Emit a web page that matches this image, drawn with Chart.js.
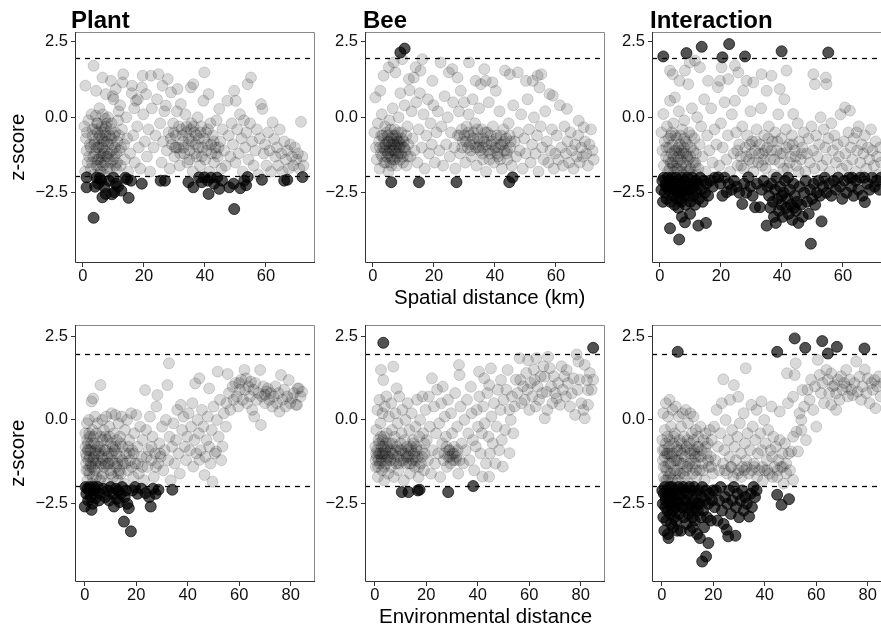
<!DOCTYPE html>
<html><head><meta charset="utf-8">
<script src="https://cdn.jsdelivr.net/npm/chart.js@4/dist/chart.umd.min.js"></script>
<style>
html,body{margin:0;padding:0;background:#fff;overflow:hidden;width:881px;height:627px;}
#wrap{position:relative;width:881px;height:627px;overflow:hidden;background:#fff;}
canvas{position:absolute;}
.t{position:absolute;font-family:"Liberation Sans",Arial,sans-serif;color:#000;white-space:nowrap;line-height:1;}
.title{font-size:24px;font-weight:bold;top:8px;}
.axt{font-size:20.5px;}
</style></head><body><div id="wrap">
<canvas id="c0"></canvas><canvas id="c1"></canvas><canvas id="c2"></canvas>
<canvas id="c3"></canvas><canvas id="c4"></canvas><canvas id="c5"></canvas>
<div class="t title" style="left:71px">Plant</div>
<div class="t title" style="left:363px">Bee</div>
<div class="t title" style="left:650px">Interaction</div>
<div class="t axt" id="xt1" style="top:286.5px">Spatial distance (km)</div>
<div class="t axt" id="xt2" style="top:605.5px">Environmental distance</div>
<div class="t axt yt" id="yt1">z-score</div>
<div class="t axt yt" id="yt2">z-score</div>
</div>
<script>
// ---- data: [distance, z-score] ----
const plantSpatial = [
[0.5,-0.3],[0.8,1.05],[1.0,-0.7],[1.2,-1.1],[1.5,-1.5],[0.7,-1.8],[1.8,-0.1],[2.0,-1.3],[2.3,-0.9],[2.6,-1.7],[1.3,-0.5],[2.8,0.1],
[3.5,1.71],[4.3,0.88],[3.2,-0.4],[3.8,-0.8],[4.0,-1.2],[4.4,-1.6],[4.6,-0.2],[5.0,-1.0],[5.2,-1.4],[5.5,-0.6],[5.8,-1.8],[6.0,-0.9],[6.2,-1.3],[6.4,1.32],[6.5,0.1],[6.8,-0.5],[7.0,-1.1],[7.2,-1.5],[7.5,0.77],[7.6,-0.3],[7.8,-0.8],[8.0,-1.7],[3.6,-1.9],[4.8,-0.5],[5.4,0.3],[6.6,-1.6],[7.3,-0.05],[8.2,0.0],[3.0,-1.5],[4.2,0.05],
[8.5,-1.2],[8.8,-0.6],[9.2,1.21],[9.0,-1.5],[9.4,-0.2],[9.7,-0.9],[10.0,0.6],[10.3,-1.3],[10.8,0.94],[10.6,-0.5],[11.0,-1.7],[11.3,-0.8],[11.7,0.2],[12.0,-1.1],[12.4,-1.6],[12.8,-0.4],[13.2,1.43],[13.0,1.16],[13.5,-0.9],[13.8,-1.4],[14.2,0.0],[14.5,-0.7],[14.8,-1.8],[11.5,-0.1],[9.8,0.7],[12.2,0.4],[10.5,-1.0],
[15.5,-1.2],[16.1,1.05],[16.0,0.8],[16.5,-0.6],[17.0,-1.5],[17.4,0.55],[17.8,-0.3],[18.3,-1.0],[18.8,-1.7],[19.3,0.99],[19.6,1.38],[19.8,0.1],[20.3,-0.8],[20.7,0.77],[21.0,-1.3],[21.5,-0.4],[22.0,-1.8],[22.3,1.38],[22.6,0.3],[23.2,-1.0],[23.8,-0.6],[24.3,0.6],[24.8,1.43],[16.8,0.3],[18.0,0.6],
[25.3,-0.2],[25.8,-1.5],[26.1,1.05],[26.3,-0.8],[26.7,0.2],[27.2,0.39],[27.5,-1.1],[27.8,1.27],[28.1,-0.5],[28.5,-1.7],[28.9,0.83],[29.2,-0.9],[29.6,-0.2],[30.0,-1.3],[30.4,-0.6],[30.8,0.2],[31.0,0.94],[31.3,-1.0],[31.7,-1.6],[32.1,0.44],[32.4,-0.4],[32.8,-0.8],[33.2,-1.2],[33.6,0.1],[34.0,-0.3],[34.3,-1.5],[34.7,-0.7],[35.0,-1.1],[35.4,0.99],[35.6,-0.2],[36.0,-1.8],[36.2,1.1],[36.5,-0.5],[36.9,-0.9],[37.3,-1.3],[37.6,0.0],[38.0,-0.7],[38.4,-1.6],[38.8,-0.3],[39.2,-1.0],[39.5,0.55],[39.8,1.49],[40.1,-1.4],[40.4,-0.5],[40.8,-0.9],[41.2,0.77],[41.5,-1.8],[41.8,-0.2],[42.2,-1.2],[42.6,-0.6],[43.0,-1.5],[43.4,-1.0],[43.8,-0.1],[44.2,-1.3],[44.7,0.28],[45.0,-0.8],[45.4,-1.7],[45.8,-0.4],
[46.3,-1.1],[46.8,-1.6],[47.4,0.55],[47.8,-0.6],[48.3,-1.3],[48.8,-0.2],[49.2,-0.9],[49.6,0.88],[50.1,0.55],[50.0,-1.5],[50.6,-0.4],[51.1,-1.2],[51.5,0.1],[52.0,-0.7],[52.4,-1.8],[52.8,-0.1],[53.2,-1.0],[53.6,-0.5],[54.0,1.1],[54.3,-1.4],[54.8,-0.2],[55.1,1.32],[55.5,-0.8],[56.0,-1.6],[56.5,-1.1],[57.0,-0.4],[57.5,-1.9],[58.0,-0.7],[58.4,0.44],[58.9,0.28],[59.3,-1.2],[59.7,-0.9],
[60.2,-1.6],[60.7,-0.5],[61.2,-1.1],[61.7,-1.8],[62.2,-0.17],[62.7,-0.72],[63.1,-1.3],[63.6,-1.0],[64.0,-1.6],[64.5,-0.4],[65.0,-1.2],[65.5,-1.8],[66.0,-0.8],[66.5,-1.4],[67.0,-1.1],[67.5,-1.7],[68.0,-0.9],[68.5,-1.3],[69.0,-1.6],[69.5,-1.0],[70.0,-1.4],[70.5,-1.2],[71.0,-1.7],[71.5,-0.15],[72.0,-1.3],[72.3,-1.6],
[2.5,-1.0],[3.1,-0.6],[3.4,-1.3],[4.1,-0.4],[4.5,-1.0],[4.7,-1.4],[5.1,-0.7],[5.3,-1.9],[5.7,-1.2],[6.1,-0.3],[6.3,-0.7],[6.7,-1.2],[6.9,-0.8],[7.1,-1.9],[7.4,-0.6],[7.7,-1.3],[7.9,-0.2],[8.3,-0.9],[8.7,-1.7],[9.1,-0.4],[9.5,-1.1],[9.9,-1.4],[10.2,-0.6],[10.9,-1.2],[11.2,-1.5],[11.9,-0.6],[12.5,-1.0],[5.0,-1.6],[6.4,-1.0],[8.1,-1.3],[3.7,-0.9],[4.9,-0.2],[5.9,-1.5],[7.0,-0.4],[9.3,-0.7],[10.6,-1.6],
[28.8,-0.7],[29.8,-0.5],[30.6,-1.0],[31.5,-0.3],[32.6,-0.6],[33.0,-1.0],[33.9,-0.5],[34.5,-0.9],[35.3,-0.4],[35.8,-0.8],[36.7,-1.2],[37.1,-0.6],[37.9,-1.0],[38.6,-0.5],[39.0,-1.3],[39.7,-0.7],[40.6,-1.1],[41.0,-0.4],[42.0,-0.9],[42.9,-0.8],[43.6,-1.2],[44.5,-1.0],[30.2,-1.0],[31.9,-1.2],[34.9,-1.4],[36.3,-0.3],
[1.2,-1.99],[1.2,-2.32],[3.5,-3.33],[4.5,-2.0],[5.0,-2.2],[5.5,-2.02],[6.4,-2.65],[7.5,-2.54],[8.6,-2.1],[10.3,-2.48],[10.0,-2.0],[10.8,-2.2],[13.9,-2.0],[12.6,-2.43],[15.0,-2.67],[15.8,-2.1],[19.3,-2.2],[25.5,-2.1],[26.9,-2.1],[34.6,-2.15],[36.2,-2.32],[38.1,-1.99],[39.0,-2.15],[39.8,-1.99],[41.2,-2.54],[40.9,-2.1],[43.0,-2.2],[44.7,-2.37],[45.6,-2.1],[48.0,-2.32],[49.4,-2.2],[49.6,-3.04],[51.6,-2.35],[52.9,-2.1],[54.0,-1.98],[58.7,-2.07],[66.0,-2.1],[67.0,-2.07],[72.0,-1.98],[4.0,-2.3],[6.0,-2.1],[7.0,-2.3],[9.5,-2.55],[11.5,-2.3],[14.5,-2.05],[42.0,-2.0],[44.0,-2.0],[53.5,-2.25]
];
const beeSpatial = [
[0.5,-0.5],[0.8,0.66],[1.0,-1.0],[1.3,-1.4],[1.6,-0.2],[2.0,-0.8],[2.2,-1.7],[2.4,0.88],[2.6,-1.2],[2.9,0.1],[3.2,-0.6],[3.5,1.38],[3.4,-1.0],[3.7,-1.5],[4.0,-0.3],[4.3,-0.9],[4.6,-1.3],[4.9,-0.6],[5.1,-1.8],[5.2,1.66],[5.4,-0.1],[5.7,-1.1],[6.0,-0.7],[6.3,-1.4],[6.5,0.3],[6.8,1.82],[6.9,-0.9],[7.2,-0.4],[7.4,1.49],[7.5,-1.2],[7.8,-1.6],[8.1,-0.8],[8.4,0.0],[8.7,-1.0],[9.0,0.8],[9.3,-0.5],[9.6,1.93],[9.8,-1.3],[10.1,-0.8],[10.4,0.4],[10.7,-1.1],[11.0,-1.6],[11.3,-0.3],[11.8,1.27],[11.6,-0.9],[12.0,0.9],[12.3,-1.3],[12.7,0.2],[13.0,-0.7],[13.4,1.32],[13.6,-1.1],[14.0,1.66],[14.2,0.5],[14.6,-1.5],[15.0,-0.4],[15.6,1.55],[15.4,0.8],[16.2,1.93],[16.0,-1.0],[16.6,0.1],[17.0,-1.7],[17.5,-0.6],[18.0,0.6],[18.4,-1.2],[18.9,-0.2],[19.5,1.21],[19.3,-0.9],[19.8,0.4],[20.3,-1.5],[20.8,-0.5],[21.3,0.2],[21.8,-1.1],[22.2,1.82],[22.5,-0.3],[23.0,-1.6],[23.5,0.7],[24.0,-0.9],[24.5,0.0],[24.9,1.49],[25.2,-1.3],[25.6,-0.5],[26.0,1.6],[26.3,0.5],[26.7,-1.0],[27.0,-1.7],[27.7,1.32],[27.8,-0.6],[28.2,0.2],[28.8,0.88],[28.6,-1.2],[29.1,-0.4],[29.5,-0.8],[29.9,0.5],[30.3,-1.5],[30.7,-0.3],[31.1,-1.0],[31.5,1.82],[31.4,0.1],[31.9,-0.6],[32.3,-1.3],[32.7,0.6],[33.1,-0.9],[33.7,1.21],[33.5,-0.2],[34.0,-1.6],[34.4,-0.7],[34.8,0.3],[35.4,1.1],[35.2,-1.1],[35.7,-0.4],[36.1,-1.4],[36.5,1.6],[36.6,-0.8],[37.0,1.21],[37.1,-1.8],[37.5,-0.5],[38.0,0.5],[38.4,-1.2],[38.8,-0.9],[39.2,1.16],[39.3,-0.3],[39.7,-1.5],[40.3,0.88],[40.1,-1.0],[40.6,-0.6],[41.0,-1.3],[41.5,0.2],[41.9,-0.9],[42.3,-1.7],[42.8,-0.4],[43.3,1.55],[43.2,-1.1],[43.7,-0.7],[44.1,-1.4],[44.9,1.43],[44.5,-0.2],[45.0,-1.0],[45.5,-1.6],[46.0,0.4],[46.5,-0.8],[47.0,-1.3],[47.5,1.49],[47.6,-0.5],[48.1,-1.1],[48.6,0.1],[49.1,-1.7],[49.6,-0.7],[50.2,1.21],[50.1,-1.2],[50.7,0.6],[51.2,-0.4],[51.7,-1.5],[52.4,1.21],[52.2,-0.9],[52.8,0.0],[53.3,-1.2],[53.8,-0.6],[54.0,1.38],[54.3,-1.8],[54.6,0.99],[55.2,1.43],[55.0,-0.3],[55.5,-1.0],[56.0,-1.4],[56.5,0.2],[57.0,-0.8],[57.5,-1.5],[57.9,0.77],[58.2,-1.1],[58.7,-0.4],[59.0,0.72],[59.3,-1.7],[59.8,-1.2],[60.3,-0.6],[60.8,-1.4],[61.3,0.4],[61.8,-1.0],[62.3,-1.6],[62.8,-0.3],[63.6,0.28],[63.3,-1.2],[63.8,-0.8],[64.3,-1.5],[64.8,-0.5],[65.3,-1.1],[65.8,-1.7],[66.3,-0.9],[66.8,-1.3],[67.5,-0.11],[67.3,-0.6],[67.8,-1.5],[68.3,-1.0],[68.8,-1.3],[69.1,-0.33],[69.5,-0.8],[70.0,-1.2],[70.5,-1.6],[71.0,-0.9],[71.5,-0.4],[72.0,-1.1],[72.4,-1.4],
[4.8,-0.8],[5.5,-1.0],[6.2,-0.9],[7.0,-1.1],[7.7,-0.7],[8.3,-1.2],[9.1,-0.9],[10.0,-1.0],[5.9,-1.3],[6.6,-0.6],[8.9,-1.4],[4.4,-1.1],
[30.0,-0.6],[31.8,-0.9],[33.0,-0.5],[34.6,-1.0],[36.2,-0.7],[37.8,-1.1],[39.0,-0.8],[40.8,-1.2],[42.5,-0.9],[44.0,-1.1],[45.2,-0.8],[38.2,-1.4],
[2.3,-1.0],[2.7,-0.6],[3.0,-1.3],[3.6,-0.7],[3.9,-1.1],[4.2,-1.5],[4.5,-0.5],[5.0,-1.2],[5.3,-0.8],[5.6,-1.5],[5.8,-0.4],[6.4,-1.1],[6.7,-0.8],[7.1,-1.4],[7.3,-0.6],[7.6,-1.0],[8.0,-1.3],[8.2,-0.5],[8.6,-0.8],[9.2,-1.2],[9.5,-0.7],[9.9,-1.5],[10.3,-1.0],[10.9,-0.6],[11.4,-1.3],[6.0,-1.6],[7.9,-0.9],[4.0,-0.9],
[28.4,-0.6],[29.3,-1.0],[30.5,-0.8],[31.3,-0.5],[32.1,-1.1],[32.9,-0.7],[33.8,-1.0],[34.2,-0.4],[35.0,-0.8],[35.9,-1.2],[36.8,-0.5],[37.3,-0.9],[38.6,-0.6],[39.5,-1.1],[40.4,-0.7],[41.3,-1.0],[42.0,-0.6],[43.0,-0.8],[43.9,-1.2],[44.8,-0.6],[41.7,-1.4],[36.0,-1.0],
[9.0,2.15],[10.4,2.28],[6.0,-2.15],[15.1,-2.15],[27.4,-2.15],[44.7,-2.15],[45.8,-1.99]
];
const interactionSpatial = [
[0.5,-0.5],[0.8,-1.1],[1.1,0.11],[1.3,-1.6],[1.6,-0.8],[2.0,-1.3],[2.3,-0.3],[2.6,-1.8],[3.0,-1.0],[3.3,1.55],[3.3,0.55],[3.6,-0.6],[4.0,-1.5],[4.2,1.43],[4.4,-0.2],[4.9,0.66],[4.8,-1.1],[5.2,-1.7],[5.5,-0.7],[5.9,-1.3],[6.4,1.21],[6.2,0.2],[6.6,-0.9],[7.0,-1.6],[7.3,-0.4],[7.7,-1.2],[8.2,1.55],[8.0,-0.1],[8.4,-0.8],[8.8,-1.8],[9.3,1.1],[9.2,-1.4],[9.8,1.82],[9.6,-0.5],[10.1,-1.0],[10.5,0.3],[10.9,-1.5],[11.5,1.88],[11.3,-0.7],[11.8,-1.2],[12.2,0.0],[12.6,-1.7],[13.1,1.66],[13.0,-0.9],[13.5,-0.3],[14.0,-1.3],[14.5,0.6],[15.0,-1.8],[15.8,1.21],[15.5,-0.6],[16.2,-1.1],[16.8,0.3],[17.3,-1.5],[17.9,-0.4],[18.5,-0.9],[19.0,1.0],[19.7,1.21],[19.5,-1.6],[20.2,1.66],[20.0,-0.2],[20.6,-1.0],[21.2,0.5],[21.8,-1.4],[22.4,1.27],[22.3,-0.6],[23.0,-1.8],[23.6,0.1],[24.6,1.71],[24.6,0.55],[24.2,-1.2],[25.0,-0.5],[25.7,1.49],[25.5,-1.6],[26.0,-0.9],[26.5,-1.3],[27.3,0.88],[27.0,-0.3],[27.5,-1.7],[28.4,1.21],[28.0,-1.0],[28.6,-0.6],[29.2,-1.4],[29.7,0.2],[30.6,1.16],[30.2,-0.8],[30.7,-1.8],[31.2,-1.1],[31.7,-0.4],[32.2,-1.5],[32.7,-0.9],[33.3,1.43],[33.2,0.3],[33.7,-1.2],[34.2,-0.6],[34.7,-1.7],[35.0,0.88],[35.2,-1.0],[35.7,-0.3],[36.6,1.38],[36.2,-1.4],[36.8,-0.8],[37.3,-1.9],[37.8,-0.5],[38.3,-1.1],[38.8,0.1],[39.3,0.94],[39.3,-1.5],[39.8,-0.7],[40.3,-1.2],[40.8,0.6],[41.5,1.55],[41.3,-0.4],[41.8,-1.7],[42.3,-0.9],[42.8,-1.3],[43.7,0.11],[43.3,-0.6],[44.2,-1.1],[44.7,-1.6],[45.2,-0.2],[45.7,-0.8],[46.2,-1.4],[46.7,-1.0],[47.2,-0.5],[47.7,-1.8],[48.2,-1.2],[48.7,-0.7],[49.2,-1.5],[49.7,-0.3],[50.3,1.43],[50.8,1.1],[50.2,-1.1],[50.7,-1.7],[51.2,-0.6],[51.7,-1.3],[52.2,-0.9],[52.7,0.0],[53.2,-1.6],[53.7,-0.4],[54.4,1.32],[54.6,1.1],[54.2,-1.0],[54.7,-1.4],[55.2,-0.7],[55.7,-1.8],[56.2,-0.2],[56.7,-1.1],[57.2,-0.6],[57.7,-1.5],[58.2,-0.9],[58.7,-1.3],[59.2,0.1],[59.7,-1.7],[60.7,0.33],[60.3,-0.8],[60.8,-1.2],[61.3,-1.6],[61.8,-0.5],[62.3,0.22],[62.6,-1.0],[63.1,-1.4],[63.6,-0.7],[64.5,-0.5],[64.2,-1.8],[64.7,-1.1],[65.2,-0.3],[65.7,-1.5],[66.2,-0.9],[66.7,-1.2],[67.2,-0.6],[67.7,-1.7],[68.2,-1.0],[68.7,-1.4],[69.2,-0.4],[69.7,-1.1],[70.2,-1.6],[70.7,-0.8],[71.2,-1.3],[71.7,-1.9],[72.2,-1.0],[72.5,-1.5],
[2.8,-1.4],[3.8,-1.2],[4.6,-1.8],[5.6,-1.5],[6.8,-1.4],[7.5,-1.9],[8.6,-1.6],[9.9,-1.7],[10.7,-1.9],[11.5,-1.5],[3.2,-1.7],[6.0,-1.0],[7.9,-1.0],[12.0,-1.9],
[2.1,-1.0],[2.9,-0.7],[3.5,-1.5],[4.1,-0.9],[4.5,-1.3],[5.0,-0.6],[5.4,-1.1],[5.8,-1.7],[6.3,-1.2],[6.7,-0.6],[7.1,-1.1],[7.6,-1.5],[8.0,-0.7],[8.5,-1.2],[9.0,-0.9],[9.4,-1.8],[10.0,-1.3],[10.4,-0.6],[11.0,-1.1],[11.7,-1.6],[4.3,-1.6],[6.9,-1.8],[8.9,-1.3],[3.9,-0.5],
[25.4,-1.1],[26.7,-1.6],[28.3,-1.3],[29.5,-0.9],[30.4,-1.5],[31.5,-0.8],[32.5,-1.2],[33.5,-1.6],[34.5,-1.1],[35.5,-0.7],[36.5,-1.1],[37.5,-1.4],[38.5,-0.8],[39.5,-1.2],[40.5,-1.7],[41.5,-1.0],[42.5,-1.5],[43.5,-0.9],[44.5,-1.3],[45.5,-1.8],[46.5,-1.2],[30.0,-1.2],[34.0,-1.4],
[1.1,2.02],[8.7,2.13],[13.7,2.34],[20.5,1.99],[22.7,2.43],[27.9,2.02],[39.9,2.19],[55.2,2.15],
[0.5,-2.4],[0.8,-2.1],[1.0,-2.8],[1.3,-2.0],[1.6,-2.5],[1.9,-2.2],[2.2,-2.7],[2.5,-2.0],[2.8,-2.4],[3.1,-2.1],[3.3,-3.68],[3.4,-2.8],[3.7,-2.3],[4.0,-2.0],[4.2,-2.6],[4.5,-2.2],[4.8,-2.9],[5.0,-2.4],[5.3,-2.0],[5.5,-2.7],[5.8,-2.3],[6.0,-3.0],[6.3,-4.05],[6.2,-2.1],[6.5,-2.5],[6.8,-2.2],[7.0,-2.8],[7.2,-3.3],[7.3,-2.0],[7.6,-2.4],[7.9,-2.6],[8.2,-3.48],[8.1,-2.1],[8.4,-2.9],[8.7,-2.3],[9.0,-2.0],[9.3,-2.6],[9.6,-2.2],[9.9,-3.2],[10.0,-2.8],[10.3,-2.4],[10.6,-2.0],[10.9,-2.6],[11.2,-2.3],[11.5,-2.9],[11.8,-2.1],[12.1,-2.5],[12.6,-3.59],[12.4,-2.2],[12.8,-2.7],[13.2,-2.0],[13.6,-2.4],[14.0,-2.8],[14.4,-2.1],[14.8,-2.5],[15.1,-3.5],[15.3,-2.2],[15.8,-2.6],[3.0,-2.3],[4.4,-2.4],[5.6,-2.5],[6.6,-2.7],[9.4,-2.4],[11.0,-2.2],[2.0,-2.3],[7.4,-2.5],
[16.5,-2.1],[17.3,-2.3],[18.0,-2.0],[19.1,-1.99],[19.8,-2.2],[20.5,-2.6],[21.2,-2.0],[21.9,-2.48],[22.6,-2.2],[23.5,-2.4],[24.3,-2.1],[25.2,-2.3],[26.0,-2.5],[27.0,-2.87],[27.6,-2.2],[28.3,-2.5],[29.0,-1.99],[29.7,-2.3],[30.4,-2.6],[31.2,-2.98],[31.8,-2.2],[32.8,-2.98],[33.4,-2.4],[34.0,-2.1],
[35.0,-3.59],[35.3,-2.3],[35.8,-2.6],[36.2,-3.0],[36.6,-2.2],[37.0,-2.8],[37.4,-3.3],[37.8,-2.4],[38.2,-2.0],[38.6,-2.7],[39.0,-3.1],[39.4,-2.3],[39.8,-2.9],[40.2,-3.3],[40.6,-2.5],[41.0,-2.1],[41.4,-3.0],[41.8,-2.7],[42.2,-3.2],[42.6,-2.4],[43.0,-2.9],[43.4,-3.4],[43.8,-2.2],[44.2,-2.6],[44.6,-3.1],[45.0,-2.8],[45.4,-3.5],[45.8,-2.3],[46.3,-2.9],[46.8,-3.3],[47.3,-2.5],[47.8,-2.1],[48.3,-2.8],[48.8,-3.2],[49.3,-2.4],[49.5,-4.19],[49.9,-2.7],[50.4,-2.2],[50.9,-2.9],[51.5,-2.5],[52.0,-2.1],[52.5,-2.6],[53.0,-3.45],[53.5,-2.3],[54.0,-2.0],[54.6,-2.5],[38.0,-3.5],[40.0,-2.6],[44.0,-3.0],[42.0,-2.0],
[55.5,-2.2],[56.2,-2.6],[57.0,-2.1],[57.7,-2.4],[58.4,-2.0],[59.1,-2.3],[59.8,-2.7],[60.5,-2.1],[61.2,-2.5],[62.0,-2.0],[62.8,-2.3],[63.5,-2.6],[64.2,-2.1],[65.0,-2.4],[65.7,-2.0],[66.4,-2.6],[67.2,-2.81],[68.0,-2.2],[68.8,-2.4],[69.6,-2.0],[70.4,-2.3],[71.2,-2.1],[72.0,-2.4],[72.5,-2.0],[63.0,-2.0],[67.0,-2.0]
];
const plantEnv = [
[0.2,-0.4],[0.4,-1.0],[0.6,-1.5],[0.8,-0.1],[1.0,-1.8],[1.2,-0.7],[1.4,-1.2],[1.6,0.0],[1.8,-1.6],[2.0,-0.5],[2.2,-0.9],[2.4,-1.3],[2.6,0.55],[2.8,-1.9],[3.0,-0.3],[3.2,0.64],[3.4,-1.1],[3.6,-0.7],[3.8,-1.5],[4.0,0.1],[4.2,-0.9],[4.4,-1.7],[4.6,-0.4],[4.8,-1.2],[0.5,-1.3],[1.1,-0.9],[1.9,-1.1],[2.9,-1.4],[3.9,-1.0],[0.9,-0.6],
[5.0,-0.1],[5.3,-1.4],[5.6,-0.8],[6.1,1.04],[5.9,-1.8],[6.2,-0.5],[6.5,-1.1],[6.8,0.0],[7.1,-1.6],[7.4,-0.3],[7.7,-0.9],[8.0,-1.3],[8.3,0.1],[8.6,-0.6],[8.9,-1.9],[9.2,-1.0],[9.5,-0.2],[9.8,-1.5],[10.1,-0.7],[10.4,0.2],[10.7,-1.2],[11.0,-1.7],[11.3,-0.4],[11.6,-0.9],[11.9,0.15],[12.2,-1.4],[12.5,-0.6],[12.8,-1.8],[13.1,-0.1],[13.4,-1.1],[13.7,-0.5],[14.0,-1.6],[14.3,0.1],[14.6,-0.8],[14.9,-1.3],[7.0,-1.2],[9.0,-1.3],[10.5,-1.0],[12.0,-0.8],[13.5,-1.5],[6.0,-0.9],[8.0,-0.5],
[15.3,-1.9],[15.6,-0.3],[16.0,-1.0],[16.4,0.0],[16.8,-1.5],[17.2,-0.6],[17.6,-1.2],[18.0,0.2],[18.4,-0.9],[18.8,-1.7],[19.2,-0.4],[19.6,-1.3],[20.0,0.15],[20.5,-0.8],[21.0,-1.6],[21.5,-0.2],[22.0,-1.1],[22.5,-0.6],[23.0,-1.8],[23.4,0.89],[23.8,-0.3],[24.3,-1.4],[24.8,-0.9],[25.3,0.1],[25.8,-1.2],[26.3,-0.5],[26.8,-1.7],[27.3,-1.0],[27.8,0.4],[28.2,0.74],[28.5,-1.3],[29.0,-0.7],[29.5,-1.1],[30.0,-0.2],[30.5,-1.5],[31.0,-0.9],[31.5,0.0],[32.1,1.04],[32.7,1.69],[32.4,-1.2],[32.9,-0.5],[33.4,-1.8],[33.9,-0.8],[34.4,-0.1],[34.9,-1.3],
[35.4,-0.6],[35.9,0.3],[36.4,-1.0],[36.9,-1.6],[37.3,0.45],[37.8,-0.3],[38.3,0.1],[38.8,-0.8],[39.3,-1.2],[39.8,-0.5],[40.3,0.2],[40.8,-0.9],[41.3,-0.2],[41.8,0.5],[42.1,-1.39],[42.9,1.09],[42.6,-0.6],[43.3,-1.0],[43.8,0.0],[44.5,1.24],[44.5,-1.19],[44.3,-0.4],[45.0,-0.9],[45.5,0.3],[46.0,-0.2],[46.5,-1.64],[46.8,-1.1],[47.3,-0.6],[47.8,0.1],[48.3,0.94],[48.3,-0.8],[48.8,-1.3],[49.3,-0.3],[49.6,-1.84],[50.0,0.4],[50.5,-1.0],[51.0,-0.94],[51.6,1.44],[51.3,0.0],[52.0,-0.5],[52.5,0.6],[53.0,-1.2],[53.5,-0.79],[54.0,0.2],[54.8,-0.2],[55.0,0.5],
[55.5,1.37],[56.0,0.8],[56.5,0.3],[57.4,0.99],[57.8,0.6],[58.5,1.1],[59.0,0.7],[59.6,0.4],[60.2,0.9],[60.8,1.2],[61.4,0.6],[62.0,1.49],[62.6,1.24],[62.3,0.9],[63.0,0.5],[63.6,1.0],[64.5,1.14],[64.2,0.7],[65.0,0.3],[65.8,0.1],[65.5,0.9],[66.2,1.1],[66.8,0.6],[67.4,0.8],[68.1,1.49],[68.4,-0.15],[68.8,0.7],[69.4,1.0],[70.0,0.5],[70.5,0.85],[71.0,0.94],[71.6,0.6],[72.2,0.8],[72.8,0.4],[73.4,0.7],[74.0,1.0],[74.6,0.5],[75.2,0.8],[75.6,0.25],[76.2,1.34],[76.8,0.6],[77.4,0.9],[78.0,0.4],[78.6,0.7],[79.2,1.19],[79.8,0.5],[80.5,0.65],[81.2,0.8],[82.0,0.45],[82.6,0.94],[83.1,0.94],[83.8,0.7],[84.4,0.84],[82.4,0.45],[60.0,1.1],[70.0,0.75],
[0.3,-0.8],[0.7,-1.1],[1.3,-1.5],[1.7,-0.4],[2.1,-1.4],[2.5,-0.7],[3.1,-1.7],[3.5,-0.5],[4.3,-1.3],[4.9,-0.8],[5.4,-1.0],[6.3,-1.3],[6.9,-0.6],[7.5,-1.4],[8.2,-0.9],[8.8,-1.1],[9.6,-0.5],[10.2,-1.6],[10.9,-0.8],[11.5,-1.3],[12.4,-1.0],[13.0,-1.6],[13.9,-0.7],[14.5,-1.2],[15.8,-1.3],[16.9,-0.8],[18.2,-1.4],[19.0,-1.0],[20.6,-1.3],[22.3,-1.4],[24.0,-1.1],[25.9,-0.8],[27.6,-1.4],[29.2,-1.0],[3.3,-1.2],[1.5,-0.9],[6.6,-1.7],[12.7,-1.3],[17.4,-1.0],[9.4,-1.3],
[0.0,-2.58],[0.3,-2.0],[0.6,-2.2],[1.0,-2.05],[1.3,-2.4],[1.6,-2.1],[2.0,-2.0],[2.3,-2.3],[2.6,-2.68],[3.0,-2.1],[3.5,-2.0],[4.2,-2.33],[4.0,-2.1],[5.0,-2.0],[6.0,-2.2],[7.0,-2.05],[8.0,-2.3],[9.0,-2.1],[10.0,-2.0],[11.3,-2.58],[11.0,-2.2],[12.0,-2.05],[12.5,-2.35],[13.0,-2.1],[13.5,-2.45],[14.0,-2.2],[14.5,-2.0],[15.2,-3.03],[15.5,-2.3],[16.0,-2.1],[16.5,-2.5],[17.1,-2.63],[17.9,-3.32],[18.5,-2.1],[19.5,-2.0],[20.5,-2.2],[22.0,-2.05],[23.6,-2.18],[25.0,-2.3],[25.6,-2.58],[26.5,-2.05],[27.5,-2.2],[28.6,-2.08],[34.0,-2.08],[5.5,-2.4],[9.5,-2.4],[3.0,-2.5]
];
const beeEnv = [
[0.2,-0.8],[0.4,-1.4],[0.6,-0.3],[0.8,-1.1],[1.0,0.3],[1.2,-1.7],[1.4,-0.6],[1.6,-1.0],[1.8,0.6],[2.0,-1.3],[2.2,-0.1],[2.4,1.49],[2.6,-0.8],[2.8,-1.5],[3.0,0.2],[3.3,1.19],[3.2,-1.0],[3.5,-0.5],[3.7,-1.8],[3.9,0.4],[4.1,-0.9],[4.3,-1.3],[4.5,0.7],[4.7,-0.4],[4.9,-1.1],[0.5,-1.0],[1.5,-1.2],[2.5,-1.1],[3.4,-0.8],[4.4,-0.7],
[5.2,-1.6],[5.5,0.1],[5.8,-0.7],[6.1,-1.2],[6.4,0.5],[6.7,-0.3],[7.0,-1.0],[7.2,1.59],[7.4,-1.7],[7.7,-0.5],[8.0,0.2],[8.5,0.94],[8.3,-1.3],[8.6,-0.8],[8.9,-0.1],[9.2,-1.5],[9.5,0.7],[9.8,-0.9],[10.1,-1.2],[10.4,-0.4],[10.7,0.3],[11.0,-1.0],[11.3,-1.8],[11.6,-0.6],[11.9,0.0],[12.2,-1.3],[12.5,-0.8],[12.8,0.5],[13.1,-1.1],[13.4,-0.3],[13.7,-1.6],[14.0,-0.9],[14.3,0.2],[14.6,-1.2],[14.9,-0.6],[15.2,-1.0],[15.5,-1.4],[15.8,-0.2],[16.1,-0.8],[16.4,0.6],[16.7,-1.1],[17.0,-1.7],[17.3,-0.5],[17.6,0.0],[17.9,-1.3],[18.2,-0.9],[18.5,0.7],[18.8,-0.4],[19.1,-1.5],[19.4,-1.0],[19.7,0.3],[14.0,-1.3],[15.0,-0.7],[13.0,-0.9],[16.0,-1.2],[12.0,-1.0],[10.0,-0.7],[6.0,-0.9],[9.0,-1.1],
[20.2,-0.6],[20.6,-1.2],[21.0,0.7],[21.4,-0.2],[21.8,-1.6],[22.2,1.24],[22.5,-0.9],[23.0,0.4],[23.4,-1.3],[23.8,-0.4],[24.2,0.9],[24.6,-1.0],[25.0,-0.1],[25.4,-1.7],[25.8,0.5],[26.4,0.99],[26.2,-0.7],[26.8,-1.2],[27.2,0.1],[27.6,-0.5],[28.0,-1.4],[28.4,0.6],[28.8,-0.9],[29.2,-1.1],[29.6,0.2],[30.0,-0.4],[30.4,-1.2],[30.8,-0.8],[31.2,0.8],[31.6,-1.1],[32.0,-0.2],[32.7,1.64],[32.9,1.34],[32.4,-1.6],[33.3,0.4],[33.8,-0.7],[34.3,-1.3],[34.8,0.0],[31.0,-1.0],[29.0,-0.9],[27.0,-1.0],
[35.3,-0.9],[35.8,0.6],[36.3,-0.4],[36.8,-1.2],[37.3,0.99],[37.6,0.2],[38.1,-0.6],[38.6,-1.5],[39.2,-0.79],[39.6,0.3],[40.1,-0.2],[40.5,1.44],[40.6,0.7],[41.1,-1.0],[41.8,-1.69],[41.6,-0.4],[42.1,0.4],[42.5,1.24],[42.7,-0.1],[43.2,-1.3],[43.7,0.8],[44.4,1.04],[44.4,-1.69],[44.2,-0.5],[44.7,-1.0],[45.1,1.54],[45.3,0.1],[45.8,-0.7],[46.3,0.5],[46.8,-1.3],[47.3,-0.2],[47.8,0.9],[48.3,-0.9],[49.0,1.19],[48.8,0.3],[49.7,-1.39],[49.3,-0.6],[50.0,0.6],[50.6,-0.3],[51.1,0.9],[51.6,1.49],[52.3,0.3],[52.3,-0.99],[52.8,0.0],[53.3,0.7],[53.8,-0.4],[54.3,0.4],[54.8,1.2],
[55.4,0.8],[56.2,1.84],[56.5,1.2],[57.0,0.5],[57.6,1.0],[58.2,0.6],[58.8,1.4],[59.5,1.78],[59.3,0.9],[60.0,0.3],[60.6,1.1],[61.2,0.7],[61.8,1.5],[62.1,1.19],[62.7,1.84],[62.5,0.4],[63.2,1.0],[63.8,0.6],[64.4,1.3],[65.0,0.8],[65.5,1.6],[66.0,1.29],[66.0,0.05],[66.7,0.84],[67.3,1.88],[67.0,0.3],[68.0,1.54],[68.5,1.0],[69.0,0.5],[69.5,1.3],[70.0,0.8],[70.6,0.64],[71.2,1.1],[71.9,0.45],[72.5,1.6],[73.0,0.9],[73.6,1.3],[74.5,1.49],[74.2,0.7],[75.0,1.1],[75.8,0.4],[76.5,0.79],[77.1,1.24],[77.8,0.15],[78.4,1.95],[79.1,1.74],[78.8,0.9],[79.5,1.2],[80.2,0.5],[81.0,0.3],[81.5,1.64],[82.4,1.19],[82.8,0.89],[82.8,0.45],[81.5,0.05],[83.5,1.4],[84.2,0.9],[84.8,1.2],
[0.3,-1.2],[0.9,-0.9],[1.3,-1.4],[1.7,-0.7],[2.1,-1.0],[2.7,-1.2],[3.1,-0.6],[3.6,-1.4],[4.0,-1.0],[4.6,-1.2],[5.0,-0.8],[5.6,-1.1],[6.3,-1.4],[6.9,-0.7],[7.5,-1.2],[8.1,-0.9],[9.4,-1.3],[10.3,-0.9],[11.1,-1.2],[12.4,-1.1],[13.3,-1.3],[14.2,-0.8],[15.4,-1.1],[16.3,-0.9],[17.2,-1.4],[18.4,-1.1],[19.3,-0.7],[28.5,-1.1],[29.4,-1.3],[30.3,-1.0],[31.4,-1.2],[32.2,-0.9],[27.8,-0.8],[33.0,-1.2],[2.4,-0.5],[6.6,-1.0],
[3.3,2.3],[84.8,2.15],[10.5,-2.15],[13.1,-2.15],[16.7,-2.1],[17.4,-2.08],[28.5,-2.15],[38.2,-1.97]
];
const interactionEnv = [
[0.2,-0.6],[0.4,-1.2],[0.6,0.2],[0.8,-1.7],[1.0,-0.9],[1.2,-0.3],[1.4,-1.4],[1.6,0.5],[1.8,-1.0],[2.0,-1.8],[2.2,-0.5],[2.4,0.1],[2.6,-1.3],[2.8,-0.8],[3.0,0.6],[3.3,-1.6],[3.6,-0.2],[3.9,-1.1],[4.2,0.3],[4.5,-0.7],[4.8,-1.5],[5.1,-0.4],[5.4,0.4],[5.7,-1.2],[6.0,-0.9],[6.3,-1.8],[6.6,0.1],[6.9,-0.6],[7.2,-1.3],[7.5,-0.2],[7.8,-1.0],[8.1,0.2],[8.4,-1.6],[8.7,-0.5],[9.0,-1.1],[9.3,0.3],[9.6,-0.8],[9.9,-1.4],[10.2,-0.1],[10.5,-1.9],[10.8,-0.7],[11.1,0.2],[11.4,-1.2],[11.7,-0.4],[12.0,-1.6],[12.3,0.1],[12.6,-0.9],[12.9,-1.3],[13.2,-0.3],[13.5,-1.7],[13.8,-0.8],[14.1,-0.5],[14.4,-1.1],[14.7,-1.5],[15.0,-0.2],[15.4,-0.9],[15.8,-1.3],[16.2,-0.6],[16.6,-1.8],[17.0,-0.4],[17.4,-1.0],[17.8,-0.7],[18.2,-1.4],[18.6,-0.3],[19.0,-1.1],[19.4,-0.6],[19.8,-1.6],[3.0,-1.0],[5.0,-1.2],[7.0,-0.9],[9.0,-1.7],[11.0,-1.0],[13.0,-1.1],[4.0,-1.8],[6.0,-1.5],
[20.3,-0.2],[20.8,-1.2],[21.3,0.3],[21.8,-0.8],[22.3,-1.5],[22.8,-0.4],[23.3,0.5],[23.9,1.21],[23.8,-1.3],[24.3,-0.9],[24.8,0.0],[25.3,-1.6],[25.8,-0.6],[26.5,0.6],[26.3,-1.1],[26.8,-1.4],[27.3,-0.3],[28.0,1.04],[27.8,-1.7],[28.3,-0.8],[28.8,-1.2],[29.7,0.69],[29.3,-0.5],[29.8,-1.5],[30.3,-0.1],[30.8,-1.0],[31.3,-1.4],[31.8,0.2],[32.6,1.54],[32.3,-0.7],[32.8,-1.2],[33.3,-0.4],[33.8,-1.6],[34.8,0.45],[34.3,-0.9],[35.3,-0.2],[35.8,-1.3],[36.3,-0.6],[36.8,0.3],[37.3,-1.0],[37.8,-1.5],[38.7,0.55],[38.3,-0.4],[38.8,-0.9],[39.3,-1.8],[39.8,0.0],[40.3,-0.7],[40.8,-1.2],[41.3,-0.3],[41.8,-1.6],[42.6,0.4],[42.3,-0.9],[42.8,-1.1],[43.3,-0.5],[43.8,-1.4],[44.3,-0.8],[44.8,-1.7],[45.8,0.25],[45.3,-1.2],[45.8,-0.6],[46.3,-1.4],[46.8,-1.0],[47.3,-1.9],[47.8,-0.7],[48.4,-1.59],[48.6,1.39],[49.0,0.5],[48.3,-1.3],[49.3,-1.0],[49.8,-1.5],[50.3,-0.94],[32.0,-1.5],[36.0,-1.4],[40.0,-1.5],
[51.0,0.69],[51.0,-0.5],[51.0,-1.79],[51.6,1.34],[52.0,1.69],[52.3,-0.35],[52.9,-0.94],[53.5,0.2],[54.2,-0.3],[54.2,0.0],[54.6,0.89],[55.3,0.4],[56.0,-0.6],[56.6,0.9],[57.4,0.6],[58.0,1.2],[58.8,0.3],[59.5,1.0],[60.0,-0.2],[60.6,1.79],[61.3,1.34],[61.8,0.8],[62.4,1.1],[63.0,0.5],[63.9,1.49],[64.5,1.2],[65.0,0.8],[65.8,1.39],[65.8,0.45],[66.4,1.0],[67.1,1.04],[67.7,0.79],[67.7,0.3],[68.4,1.2],[69.0,0.6],[69.6,1.3],[70.2,0.9],[70.8,1.1],[71.6,1.49],[71.6,0.99],[72.3,0.7],[73.0,1.2],[73.6,0.9],[74.2,0.74],[74.8,1.1],[75.5,1.74],[76.1,0.84],[76.8,1.29],[77.4,0.6],[78.0,1.0],[78.8,1.5],[79.4,0.8],[80.0,1.24],[80.7,0.5],[81.4,1.1],[82.0,0.9],[82.6,1.19],[83.0,0.35],[83.6,1.0],[84.3,1.3],[85.0,0.7],[86.0,1.1],
[0.3,-0.9],[0.7,-1.4],[1.1,-1.1],[1.5,-0.7],[1.9,-1.5],[2.3,-1.0],[2.7,-1.7],[3.1,-0.6],[3.5,-1.3],[4.3,-1.0],[4.7,-0.5],[5.2,-1.6],[5.8,-0.8],[6.4,-1.2],[7.1,-1.6],[7.7,-0.7],[8.2,-1.3],[8.8,-0.9],[9.4,-1.5],[10.0,-0.6],[10.6,-1.3],[11.2,-0.9],[11.8,-1.4],[12.4,-0.6],[13.3,-1.5],[14.2,-0.8],[15.2,-1.1],[16.0,-1.5],[17.1,-0.8],[18.0,-1.2],[19.2,-1.4],[12.8,-1.0],[5.6,-1.9],[1.3,-1.8],
[24.5,-1.5],[27.0,-1.4],[29.5,-1.6],[31.0,-1.7],[33.0,-1.4],[35.0,-1.5],[37.0,-1.7],[39.0,-1.4],[41.0,-1.5],[43.0,-1.7],[45.0,-1.5],[47.0,-1.4],
[6.2,2.03],[44.8,2.03],[51.6,2.43],[55.7,2.15],[62.3,2.35],[64.5,1.98],[68.0,2.18],[78.7,2.13],
[0.2,-2.1],[0.4,-2.5],[0.6,-2.9],[0.8,-2.2],[1.0,-3.3],[1.2,-2.0],[1.4,-2.6],[1.6,-2.3],[1.8,-3.0],[2.0,-2.1],[2.2,-2.7],[2.4,-3.4],[2.6,-3.52],[2.8,-2.4],[3.0,-2.0],[3.2,-2.8],[3.4,-2.2],[3.6,-3.1],[3.8,-2.5],[4.0,-2.0],[4.2,-2.7],[4.4,-3.2],[4.6,-2.3],[4.8,-2.9],[5.0,-2.1],[5.3,-2.6],[5.6,-3.0],[5.9,-2.2],[6.2,-2.5],[6.5,-2.0],[6.8,-2.8],[7.1,-2.3],[7.4,-3.3],[7.7,-2.1],[8.0,-2.6],[8.3,-2.0],[8.6,-2.9],[8.9,-2.4],[9.2,-2.1],[9.5,-3.1],[9.8,-2.6],[10.1,-2.2],[10.4,-2.8],[10.7,-2.0],[11.0,-3.3],[11.3,-2.5],[11.6,-2.1],[11.9,-2.9],[12.2,-2.4],[12.5,-2.0],[12.8,-3.0],[13.1,-2.6],[13.4,-2.2],[13.7,-3.4],[14.0,-2.7],[14.3,-2.1],[14.6,-2.5],[14.8,-3.52],[15.1,-2.9],[15.4,-2.3],[15.7,-4.22],[15.7,-2.0],[16.0,-2.7],[16.4,-3.2],[16.8,-2.4],[17.2,-4.07],[17.2,-2.1],[17.6,-2.9],[18.1,-3.67],[18.0,-2.5],[18.5,-2.2],[19.0,-3.0],[19.5,-2.4],[19.9,-2.1],[1.5,-2.4],[3.5,-2.6],[5.5,-2.4],[7.5,-2.6],[9.5,-2.4],[11.5,-2.7],[13.5,-2.5],[2.5,-2.3],[6.0,-3.3],[12.0,-3.2],
[20.5,-2.6],[21.0,-2.1],[21.6,-3.0],[22.2,-2.4],[22.8,-2.0],[23.4,-2.7],[24.0,-3.1],[24.6,-2.3],[25.2,-3.27],[25.8,-3.47],[25.5,-2.5],[26.2,-2.1],[26.8,-2.8],[27.4,-2.4],[28.0,-2.0],[28.6,-3.45],[28.8,-2.6],[29.4,-2.2],[30.0,-2.9],[30.6,-2.4],[31.2,-2.1],[31.8,-2.7],[32.4,-2.3],[33.0,-2.5],[33.9,-2.88],[34.5,-2.2],[35.0,-2.6],[35.6,-2.0],[36.2,-2.3],[36.8,-2.1],
[44.8,-2.23],[46.5,-2.53],[49.4,-2.36]
];
const spatialTicks = [0, 20, 40, 60];
const envTicks = [0, 20, 40, 60, 80];
const zTicks = [-2.5, 0, 2.5];
const sigLines = [1.96, -1.96];

// ---- layout ----
Chart.defaults.font.family = '"Liberation Sans", Arial, sans-serif';
const YAW = 60, XAH = 30, PT = 15, PR = 15, PB = 5, PW = 240;
const colLeft = [75, 365, 652];
const rows = [
  {top: 32, h: 231, min: -2.6, max: 76.1, ticks: spatialTicks},
  {top: 325, h: 257, min: -3.8, max: 89.4, ticks: envTicks}
];
const panels = [plantSpatial, beeSpatial, interactionSpatial, plantEnv, beeEnv, interactionEnv];

const framePlugin = {
  id: 'frame',
  afterDatasetsDraw(chart) {
    const {ctx, chartArea: a, scales: {y}} = chart;
    ctx.save();
    ctx.strokeStyle = '#000'; ctx.lineWidth = 1.3; ctx.setLineDash([5, 5]);
    sigLines.forEach(v => {
      const py = Math.round(y.getPixelForValue(v)) + 0.5;
      ctx.beginPath(); ctx.moveTo(a.left, py); ctx.lineTo(a.right, py); ctx.stroke();
    });
    ctx.setLineDash([]);
    ctx.lineWidth = 1;
    ctx.strokeStyle = '#888';
    ctx.beginPath(); ctx.moveTo(a.left, a.top + 0.5); ctx.lineTo(a.right - 0.5, a.top + 0.5); ctx.lineTo(a.right - 0.5, a.bottom); ctx.stroke();
    ctx.strokeStyle = '#333';
    ctx.beginPath(); ctx.moveTo(a.left + 0.5, a.top); ctx.lineTo(a.left + 0.5, a.bottom - 0.5); ctx.lineTo(a.right, a.bottom - 0.5); ctx.stroke();
    ctx.restore();
  }
};

panels.forEach((pts, i) => {
  const r = rows[Math.floor(i / 3)], c = i % 3;
  const cv = document.getElementById('c' + i);
  const W = YAW + PW + PR, H = PT + r.h + PB + XAH;
  cv.width = W; cv.height = H;
  cv.style.width = W + 'px'; cv.style.height = H + 'px';
  cv.style.left = (colLeft[c] - YAW) + 'px';
  cv.style.top = (r.top - PT) + 'px';
  const light = pts.filter(p => Math.abs(p[1]) <= 1.96).map(p => ({x: p[0], y: p[1]}));
  const dark = pts.filter(p => Math.abs(p[1]) > 1.96).map(p => ({x: p[0], y: p[1]}));
  new Chart(cv, {
    type: 'scatter',
    data: {datasets: [
      {data: light, pointRadius: 5.5, pointBorderWidth: 1, backgroundColor: 'rgba(0,0,0,0.15)', borderColor: 'rgba(0,0,0,0.15)'},
      {data: dark, pointRadius: 5.5, pointBorderWidth: 1, backgroundColor: 'rgba(0,0,0,0.68)', borderColor: 'rgba(0,0,0,0.68)'}
    ]},
    options: {
      responsive: false, animation: false, devicePixelRatio: 1,
      layout: {padding: {left: 0, top: PT, right: PR, bottom: PB}},
      plugins: {legend: {display: false}, tooltip: {enabled: false}},
      events: [],
      scales: {
        x: {
          type: 'linear', min: r.min, max: r.max,
          afterBuildTicks: s => { s.ticks = r.ticks.map(v => ({value: v})); },
          afterFit: s => { s.height = XAH; },
          grid: {drawOnChartArea: false, drawTicks: true, tickLength: 4, color: '#333', lineWidth: 1},
          border: {display: false},
          ticks: {font: {size: 16.5}, color: '#111', padding: 0, maxRotation: 0, autoSkip: false,
                  callback: v => String(v)}
        },
        y: {
          type: 'linear', min: -4.83, max: 2.83,
          afterBuildTicks: s => { s.ticks = zTicks.map(v => ({value: v})); },
          afterFit: s => { s.width = YAW; },
          grid: {drawOnChartArea: false, drawTicks: true, tickLength: 4, color: '#333', lineWidth: 1},
          border: {display: false},
          ticks: {font: {size: 16.5}, color: '#111', padding: 3, autoSkip: false,
                  callback: v => (v < 0 ? '\u2212' : '') + Math.abs(v).toFixed(1)}
        }
      }
    },
    plugins: [framePlugin]
  });
});

// axis titles placement
function centerX(id, cx) { const e = document.getElementById(id); e.style.left = (cx - e.offsetWidth / 2) + 'px'; }
centerX('xt1', 489.5);
centerX('xt2', 485.5);
[['yt1', 147.5], ['yt2', 453.5]].forEach(([id, cy]) => {
  const e = document.getElementById(id);
  const w = e.offsetWidth, h = e.offsetHeight;
  e.style.left = (17.3 - w / 2) + 'px';
  e.style.top = (cy - h / 2) + 'px';
  e.style.transform = 'rotate(-90deg)';
});
</script>
</body></html>
